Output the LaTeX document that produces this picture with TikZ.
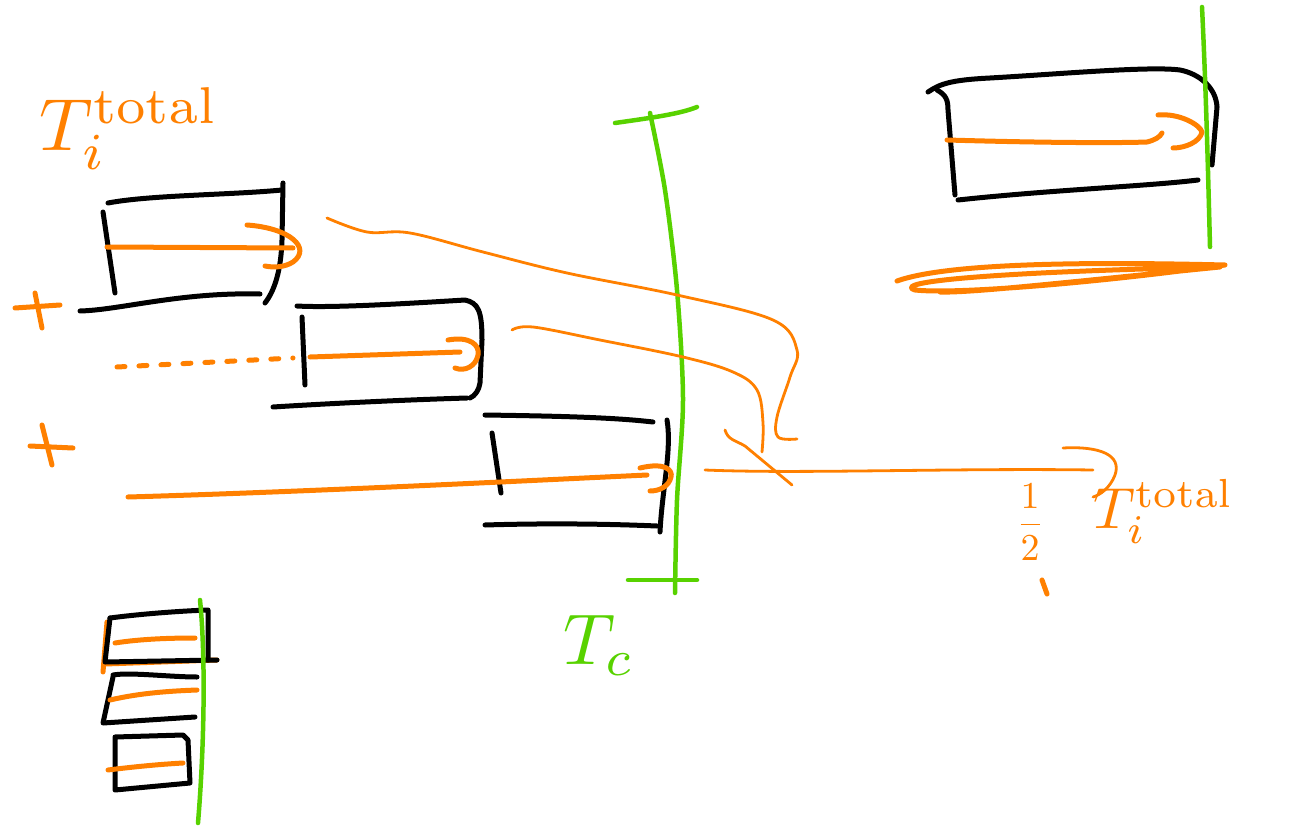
\documentclass[tikz,border=0pt]{standalone}
\usepackage{tikz}
\usetikzlibrary{calc}
\definecolor{penorange}{RGB}{255,128,0}
\definecolor{pengreen}{RGB}{88,210,0}

\begin{document}
\begin{tikzpicture}[x=1pt,y=1pt,yscale=-1,
  ink/.style={line width=5pt,line cap=round,line join=round,black},
  hl/.style={line width=5pt,line cap=round,line join=round,penorange},
  hlthin/.style={line width=2.8pt,line cap=round,line join=round,penorange},
  tc/.style={line width=4.5pt,line cap=round,line join=round,pengreen},
  lbl/.style={inner sep=0pt,anchor=north west,transform shape}]
  \useasboundingbox (0,0) rectangle (1305,826);

  % Text Node: T_i^total (top left)
  \node[lbl,text=penorange,xscale=7.4,yscale=-7.4] (ttot) at (38,86) {$T_i^{\mathrm{total}}$};

  % Box 1
  \draw[ink] (108,203) .. controls (150,195) and (230,195) .. (282,190);
  \draw[ink] (103,212) -- (115,293);
  \draw[ink] (283,183) -- (282,240) .. controls (281,270) and (275,290) .. (265,303);
  \draw[ink] (80,311) .. controls (120,310) and (180,292) .. (260,294);
  \draw[hl] (107,247) -- (293,248);
  \draw[hl] (247,225) .. controls (290,228) and (312,248) .. (293,262) .. controls (285,267) and (275,268) .. (265,266);

  % plus signs
  \draw[hl] (15,308) -- (60,305);
  \draw[hl] (35,293) -- (42,328);
  \draw[hl] (30,446) -- (73,448);
  \draw[hl] (42,425) -- (52,465);

  % Box 2
  \draw[ink] (297,306) .. controls (330,308) and (400,304) .. (465,300) .. controls (478,303) and (482,310) .. (482,340) -- (480,383) .. controls (479,390) and (475,396) .. (470,398);
  \draw[ink] (302,317) -- (305,385);
  \draw[ink] (273,407) .. controls (320,404) and (400,400) .. (467,398);
  \draw[hl,dash pattern=on 8pt off 14pt] (117,367) -- (293,358);
  \draw[hl] (310,357) -- (460,352);
  \draw[hl] (448,340) .. controls (470,336) and (480,345) .. (478,355) .. controls (476,366) and (465,372) .. (455,368);

  % Box 3
  \draw[ink] (485,415) .. controls (550,416) and (610,417) .. (653,422);
  \draw[ink] (492,433) -- (501,493);
  \draw[ink] (667,420) .. controls (672,450) and (662,490) .. (660,532);
  \draw[ink] (485,525) .. controls (550,523) and (610,524) .. (657,526);
  \draw[hl] (128,497) .. controls (300,492) and (500,482) .. (647,475);
  \draw[hl] (640,468) .. controls (665,462) and (673,470) .. (671,477) .. controls (669,486) and (660,491) .. (650,491);

  % Green line T_c
  \draw[tc] plot[smooth] coordinates {(650,113) (665,190) (677,290) (683,400) (677,500) (675,593)};
  \draw[tc] (615,123) .. controls (650,118) and (680,114) .. (697,107);
  \draw[tc] (628,580) -- (697,580);
  \node[lbl,text=pengreen,xscale=7.2,yscale=-7.2] (tc) at (562,614) {$T_c$};

  % connecting strokes
  \draw[hlthin] plot[smooth,tension=0.6] coordinates {(327,218) (367,232) (410,233) (483,252) (567,273) (677,295) (773,320) (797,350) (790,377) (777,417) (778,437) (797,439)};
  \draw[hlthin] plot[smooth,tension=0.6] coordinates {(512,330) (533,327) (600,340) (683,357) (733,372) (757,390) (763,423) (762,452)};
  \draw[hlthin] (725,430) .. controls (728,440) and (735,440) .. (745,446) -- (792,485);
  \draw[hlthin] (705,470) .. controls (800,474) and (950,468) .. (1093,470);
  \draw[hlthin] (1063,448) .. controls (1100,446) and (1122,455) .. (1115,475) .. controls (1110,488) and (1100,495) .. (1093,497);

  % Text Node: 1/2 T_i^total (right)
  \node[text=penorange,inner sep=0pt,transform shape,xscale=3.8,yscale=-3.8] (half) at (1030,522) {$\displaystyle\frac{1}{2}$};
  \draw[hl] (1042,580) -- (1047,594);
  \node[lbl,text=penorange,xscale=5.8,yscale=-5.8] (ttotb) at (1092,478) {$T_i^{\mathrm{total}}$};

  % Box top right
  \draw[ink] (928,92) .. controls (940,84) and (950,80) .. (990,78) .. controls (1060,74) and (1150,66) .. (1180,70) .. controls (1200,74) and (1216,88) .. (1217,107) -- (1212,165);
  \draw[ink] (937,90) .. controls (946,95) and (948,100) .. (948,110) -- (955,195);
  \draw[ink] (958,200) .. controls (1050,190) and (1150,186) .. (1198,180);
  \draw[hl] (947,140) .. controls (1050,143) and (1120,143) .. (1147,142) .. controls (1155,140) and (1160,137) .. (1162,133);
  \draw[hl] (1158,115) .. controls (1180,113) and (1200,125) .. (1202,132) .. controls (1200,142) and (1185,148) .. (1173,148);
  \draw[tc] (1202,7) .. controls (1206,90) and (1208,170) .. (1210,247);
  % scribble under it
  \draw[hl] (897,281) .. controls (950,262) and (1100,262) .. (1225,265) .. controls (1120,280) and (960,295) .. (915,290) .. controls (890,282) and (990,272) .. (1220,267) .. controls (1060,283) and (970,293) .. (940,292);

  % Stack bottom left
  \draw[hl] (105,664) -- (217,660);
  \draw[hl] (107,622) -- (103,672);
  \draw[ink] (110,618) .. controls (140,614) and (180,611) .. (208,610) -- (208,660);
  \draw[ink] (110,618) -- (105,662) -- (217,660);
  \draw[hl] (115,643) .. controls (140,639) and (170,638) .. (195,638);
  \draw[ink] (113,675) .. controls (130,672) and (170,677) .. (197,677);
  \draw[ink] (113,677) -- (103,723) -- (195,717);
  \draw[hl] (110,700) .. controls (140,693) and (170,691) .. (197,690);
  \draw[ink] (115,737) -- (183,735) -- (188,740) -- (190,783) -- (115,790) -- cycle;
  \draw[hl] (108,770) .. controls (140,766) and (165,764) .. (183,763);
  \draw[tc] (200,600) .. controls (206,660) and (204,750) .. (198,823);
\end{tikzpicture}
\end{document}
